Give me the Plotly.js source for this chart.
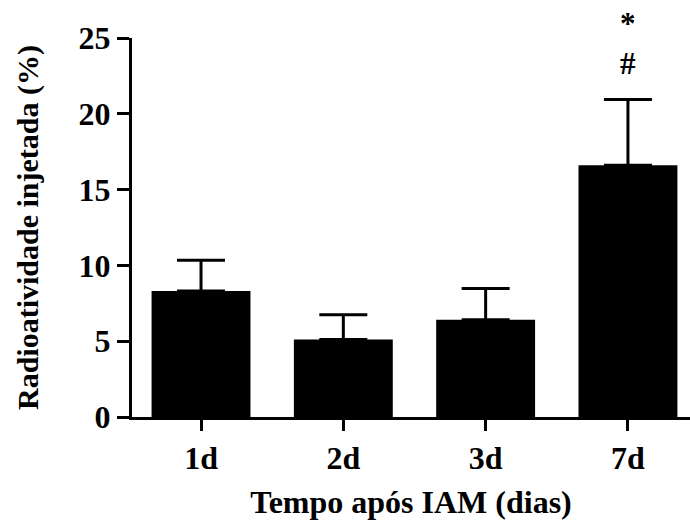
<!DOCTYPE html>
<html>
<head>
<meta charset="utf-8">
<script src="https://cdn.plot.ly/plotly-3.0.1.min.js"></script>
<style>html,body{margin:0;padding:0;background:#fff;}#chart{width:690px;height:531px;}</style>
</head>
<body>
<div id="chart"></div>
<script>
const categories = ["1d", "2d", "3d", "7d"];
const means = [8.31, 5.11, 6.42, 16.6];
const sem = [2.03, 1.64, 2.05, 4.34];
const markLabels = ["*", "#"];
const markCategory = "7d";
const markPaperY = 1.09;
const yTicks = [0, 5, 10, 15, 20, 25];

const font = "Liberation Serif, Times New Roman, serif";

const trace = {
  type: "bar",
  x: categories,
  y: means,
  marker: {color: "#000", line: {width: 0}},
  error_y: {type: "data", symmetric: false, array: sem, arrayminus: sem.map(() => 0),
            color: "#000", thickness: 3, width: 24},
  hoverinfo: "none"
};

const layout = {
  width: 690, height: 531,
  margin: {l: 132, r: 0, t: 38, b: 114},
  paper_bgcolor: "#fff", plot_bgcolor: "#fff",
  showlegend: false,
  bargap: 0.305,
  font: {family: font, color: "#000"},
  xaxis: {
    type: "category",
    range: [-0.485, 3.436],
    showline: true, linewidth: 3, linecolor: "#000",
    ticks: "outside", ticklen: 11, tickwidth: 3, tickcolor: "#000",
    showgrid: false, zeroline: false,
    tickfont: {family: font, size: 32, color: "#000", weight: "bold"},
    title: {text: "<b>Tempo após IAM (dias)</b>", font: {family: font, size: 32, color: "#000"}, standoff: 16}
  },
  yaxis: {
    range: [0, 25],
    tickvals: yTicks,
    showline: true, linewidth: 3, linecolor: "#000",
    ticks: "outside", ticklen: 12, tickwidth: 3, tickcolor: "#000",
    showgrid: false, zeroline: false,
    tickfont: {family: font, size: 32, color: "#000", weight: "bold"},
    title: {text: "<b>Radioatividade injetada (%)</b>", font: {family: font, size: 30, color: "#000"}, standoff: 32}
  },
  annotations: [{
    x: markCategory, y: markPaperY, xref: "x", yref: "paper",
    text: "<b>" + markLabels.join("<br>") + "</b>", showarrow: false,
    font: {family: font, size: 31, color: "#000"}
  }]
};

Plotly.newPlot("chart", [trace], layout, {staticPlot: true, displayModeBar: false});
</script>
</body>
</html>
